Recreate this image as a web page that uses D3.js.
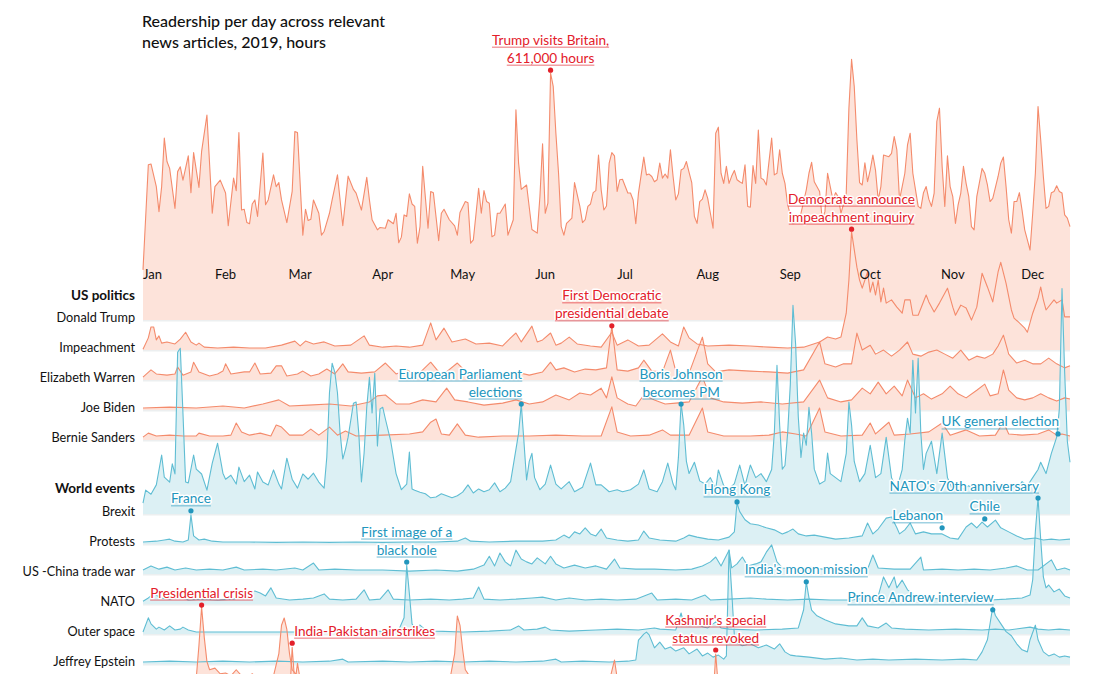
<!DOCTYPE html>
<html><head><meta charset="utf-8">
<script src="https://cdn.jsdelivr.net/npm/d3@7"></script>
<style>
body{margin:0;background:#fff;}
svg text{font-family:Lato,"Noto Sans",sans-serif;}
</style></head><body>
<svg id="chart" width="1094" height="674"></svg>
<script>
// ---------- DATA (thousands of hours per day; [dayOfYear (0 = 1 Jan 2019), value]) ----------
const titleLines = ["Readership per day across relevant", "news articles, 2019, hours"];
const monthLabels = ["Jan","Feb","Mar","Apr","May","Jun","Jul","Aug","Sep","Oct","Nov","Dec"];
const groupUS = "US politics";
const groupWorld = "World events";

const trump = [[0,124],[2,384],[3,386],[5,330],[6,268],[7,330],[8,450],[9,392],[10,375],[12,276],[13,367],[14,379],[15,346],[17,406],[18,315],[19,414],[21,328],[22,417],[24,507],[26,264],[27,330],[29,346],[31,314],[32,233],[34,351],[35,320],[36,464],[37,272],[38,274],[39,241],[40,238],[41,287],[42,297],[43,256],[45,413],[46,285],[47,297],[49,359],[50,330],[51,340],[52,297],[54,241],[56,318],[57,466],[58,464],[60,210],[61,274],[62,246],[63,249],[64,297],[66,264],[67,210],[68,219],[70,264],[71,297],[73,359],[75,233],[77,356],[79,323],[80,314],[82,272],[84,353],[85,297],[86,248],[88,223],[89,229],[91,227],[92,248],[94,238],[95,264],[96,191],[97,205],[98,260],[99,256],[100,312],[101,287],[102,281],[103,190],[104,231],[105,380],[107,227],[108,318],[109,315],[111,196],[112,264],[113,274],[115,248],[117,233],[118,210],[119,266],[121,293],[122,290],[123,190],[124,198],[126,326],[127,264],[128,320],[129,293],[130,289],[131,206],[132,210],[133,264],[134,264],[136,287],[137,210],[139,248],[140,520],[141,388],[142,323],[144,334],[146,224],[148,215],[149,305],[150,436],[151,264],[152,289],[153,611],[154,578],[155,462],[156,363],[157,231],[158,210],[159,239],[161,252],[162,340],[164,281],[165,241],[166,248],[167,281],[168,287],[169,315],[170,320],[171,408],[172,322],[173,272],[174,282],[175,388],[176,414],[177,406],[178,318],[179,347],[180,348],[182,314],[183,314],[184,297],[185,238],[186,314],[188,403],[189,359],[190,361],[191,355],[192,342],[193,347],[194,388],[195,351],[196,361],[197,351],[198,421],[199,355],[200,297],[201,312],[202,371],[203,375],[204,392],[205,365],[206,340],[207,256],[208,239],[209,293],[210,299],[211,322],[212,301],[213,264],[214,227],[215,462],[216,477],[217,363],[218,338],[219,380],[220,338],[221,356],[222,370],[223,347],[224,342],[225,338],[226,384],[227,281],[228,279],[229,382],[230,338],[231,470],[232,351],[233,347],[234,334],[236,450],[237,359],[238,363],[239,421],[240,363],[241,338],[242,285],[244,238],[246,248],[247,264],[249,322],[250,363],[251,390],[252,342],[254,318],[255,248],[256,268],[257,363],[258,330],[259,297],[260,315],[261,305],[262,264],[263,287],[264,314],[265,524],[266,645],[267,578],[268,446],[269,340],[270,334],[271,389],[272,342],[273,371],[274,408],[275,370],[276,297],[277,330],[278,408],[280,404],[281,412],[282,454],[283,421],[284,297],[285,330],[286,363],[287,433],[288,462],[289,363],[291,281],[292,276],[293,315],[294,330],[295,299],[296,281],[297,314],[298,491],[299,524],[300,380],[301,281],[302,406],[303,330],[304,305],[305,239],[306,285],[307,314],[308,380],[309,338],[310,305],[311,231],[312,223],[313,305],[315,375],[316,363],[317,334],[318,293],[319,301],[321,355],[322,388],[323,403],[324,330],[325,248],[326,215],[327,293],[328,293],[329,315],[330,272],[331,223],[332,198],[333,173],[334,264],[335,363],[336,528],[337,446],[338,355],[339,276],[340,281],[341,315],[342,318],[343,332],[344,318],[345,314],[346,260],[347,252],[348,231]];

const impeachment = [[0,2],[2,30],[3,57],[4,57],[5,25],[6,35],[7,17],[9,20],[12,15],[14,27],[16,44],[18,20],[20,12],[21,17],[23,7],[28,5],[34,7],[40,5],[46,5],[52,12],[57,22],[59,10],[61,22],[64,15],[68,20],[72,10],[78,12],[83,35],[85,12],[90,7],[95,10],[100,7],[105,12],[108,67],[110,25],[113,54],[116,20],[121,27],[125,15],[130,17],[135,10],[138,30],[140,42],[142,20],[146,59],[148,20],[150,25],[153,42],[155,12],[157,17],[160,32],[163,15],[168,10],[172,7],[176,44],[178,12],[182,25],[186,10],[190,12],[195,40],[198,20],[201,10],[203,57],[205,30],[208,15],[212,10],[220,12],[228,10],[235,7],[242,5],[248,7],[254,20],[257,32],[260,27],[262,32],[264,91],[265,173],[266,292],[268,205],[269,173],[270,153],[272,193],[273,143],[274,168],[275,136],[276,173],[277,119],[278,153],[279,116],[281,124],[283,106],[285,91],[286,124],[288,124],[289,86],[291,86],[294,136],[295,119],[297,94],[299,116],[302,153],[304,106],[305,86],[307,111],[309,104],[311,74],[313,106],[315,190],[317,156],[319,119],[321,193],[322,217],[324,165],[326,99],[327,79],[329,67],[331,54],[332,44],[334,91],[336,128],[337,156],[338,124],[339,99],[342,124],[343,116],[345,124],[346,82],[348,82]];

const warren = [[0,7],[3,25],[5,15],[9,12],[12,15],[13,32],[15,12],[18,20],[19,44],[21,20],[25,10],[28,15],[30,22],[31,40],[33,15],[38,20],[40,20],[42,42],[44,15],[48,17],[50,35],[52,35],[54,10],[58,15],[60,22],[63,10],[66,15],[69,27],[72,15],[75,40],[77,20],[82,17],[87,20],[91,42],[95,15],[99,25],[103,12],[108,44],[111,20],[113,15],[118,42],[121,22],[125,12],[130,17],[135,12],[140,20],[145,12],[150,20],[153,44],[155,25],[158,30],[162,20],[166,27],[170,25],[174,30],[176,133],[178,25],[182,22],[186,30],[188,49],[191,22],[195,20],[198,74],[200,22],[205,17],[210,106],[212,40],[215,20],[220,25],[228,22],[235,20],[242,17],[248,25],[254,94],[256,40],[260,32],[263,40],[266,40],[268,116],[270,74],[273,86],[275,64],[278,74],[281,59],[284,74],[287,94],[289,64],[292,59],[295,69],[298,74],[301,64],[304,54],[307,74],[310,49],[313,59],[316,54],[319,64],[321,84],[323,111],[325,64],[328,42],[331,49],[334,40],[337,40],[340,54],[343,40],[346,30],[348,35]];

const biden = [[0,5],[10,7],[20,5],[30,10],[38,5],[45,15],[51,25],[55,10],[62,12],[70,15],[78,10],[85,20],[88,35],[91,37],[95,15],[100,15],[105,25],[110,20],[114,54],[117,25],[122,20],[128,12],[135,17],[140,25],[145,15],[150,20],[155,37],[160,25],[164,42],[168,37],[172,54],[174,30],[176,82],[178,30],[182,15],[185,10],[188,37],[192,25],[196,15],[200,17],[205,20],[210,82],[213,30],[218,20],[225,17],[232,20],[240,15],[248,20],[254,74],[257,30],[262,20],[266,25],[270,54],[273,40],[276,69],[279,40],[282,59],[285,35],[287,74],[290,30],[293,40],[296,27],[300,40],[303,59],[306,40],[309,30],[313,49],[316,64],[318,35],[321,40],[323,99],[325,49],[328,30],[331,25],[334,30],[337,40],[340,30],[343,22],[346,30],[348,27]];

const sanders = [[0,7],[2,17],[5,10],[10,12],[15,10],[20,10],[21,17],[25,10],[30,10],[33,12],[35,42],[37,20],[40,12],[44,17],[48,10],[50,37],[52,32],[55,12],[60,12],[63,27],[66,12],[70,32],[73,12],[76,22],[80,10],[90,12],[100,15],[105,20],[108,44],[110,52],[112,15],[115,12],[118,40],[121,12],[126,7],[135,10],[145,10],[155,12],[165,10],[172,10],[176,82],[178,20],[183,10],[190,12],[195,25],[198,12],[205,12],[210,79],[212,20],[218,10],[228,10],[235,12],[240,20],[245,15],[249,10],[254,79],[256,20],[262,10],[270,12],[273,42],[275,15],[280,44],[282,12],[288,15],[295,20],[300,42],[303,12],[309,25],[314,10],[320,12],[323,44],[325,15],[330,12],[336,15],[340,25],[343,12],[345,15],[348,10]];

const brexit = [[0,27],[1,59],[3,49],[5,72],[7,146],[8,91],[10,79],[11,124],[12,99],[13,400],[14,410],[15,250],[16,79],[17,77],[19,146],[20,111],[22,99],[24,59],[26,126],[28,175],[30,101],[31,86],[33,96],[35,74],[36,116],[38,80],[40,96],[42,62],[43,104],[45,79],[47,72],[49,109],[51,74],[52,62],[54,138],[56,86],[58,64],[60,99],[62,86],[64,101],[66,79],[68,64],[69,141],[70,300],[71,373],[72,351],[73,300],[74,200],[75,136],[76,160],[77,190],[79,274],[80,277],[81,200],[82,79],[83,151],[84,264],[85,338],[86,250],[87,348],[88,168],[89,260],[90,264],[91,235],[93,180],[95,100],[97,60],[99,74],[100,153],[101,62],[102,59],[104,54],[106,50],[108,40],[110,42],[112,50],[114,45],[116,40],[118,45],[120,54],[122,72],[124,52],[126,62],[128,55],[130,60],[132,77],[134,55],[136,64],[138,80],[140,160],[141,200],[142,272],[143,180],[144,84],[145,130],[146,150],[147,90],[149,60],[151,74],[153,121],[155,74],[157,62],[160,80],[162,55],[165,66],[168,126],[170,72],[172,72],[175,55],[178,60],[180,55],[183,60],[186,74],[188,109],[190,62],[193,55],[195,80],[197,126],[199,74],[200,60],[201,140],[202,274],[203,220],[204,130],[205,100],[207,128],[209,82],[211,74],[213,90],[215,62],[216,109],[218,70],[220,62],[222,75],[224,121],[226,70],[228,121],[230,90],[232,100],[234,80],[236,110],[237,200],[238,368],[239,220],[240,111],[241,120],[242,200],[243,320],[244,516],[245,420],[246,240],[247,140],[248,200],[249,170],[250,264],[251,200],[252,111],[254,74],[256,82],[257,151],[258,100],[260,90],[262,80],[264,150],[265,277],[266,220],[267,130],[269,80],[271,100],[273,170],[275,90],[277,100],[279,190],[281,90],[283,62],[285,110],[286,183],[287,237],[288,200],[289,380],[290,250],[291,385],[292,200],[293,110],[294,150],[296,180],[298,100],[300,200],[302,90],[304,60],[306,70],[308,62],[310,70],[312,62],[314,60],[316,74],[318,62],[320,80],[322,57],[324,70],[326,74],[328,60],[330,80],[332,70],[334,90],[336,110],[337,128],[339,100],[341,150],[343,190],[344,260],[345,558],[346,350],[347,180],[348,128]];

const protests = [[0,5],[5,7],[8,10],[10,12],[12,7],[15,5],[17,10],[18,72],[19,20],[21,10],[23,12],[26,7],[30,5],[40,5],[50,4],[60,5],[70,4],[80,5],[90,4],[100,5],[110,5],[118,7],[121,15],[123,7],[130,5],[140,7],[150,7],[155,10],[158,22],[160,15],[162,30],[164,25],[166,40],[168,25],[170,20],[172,37],[174,15],[178,10],[182,7],[186,10],[188,32],[190,15],[194,10],[200,7],[203,15],[205,22],[208,17],[212,12],[216,10],[220,17],[222,30],[223,101],[224,80],[226,60],[228,50],[231,47],[234,40],[237,35],[240,25],[242,30],[244,37],[246,25],[249,20],[252,22],[256,17],[260,12],[265,15],[270,20],[272,52],[274,25],[276,37],[279,64],[281,67],[283,40],[284,25],[286,35],[288,52],[290,25],[293,30],[296,25],[300,25],[303,15],[306,12],[309,42],[311,52],[313,40],[315,54],[317,42],[320,59],[322,40],[325,30],[328,20],[331,12],[335,15],[338,10],[341,12],[344,10],[348,12]];

const tradeWar = [[0,10],[3,20],[6,12],[9,17],[12,10],[16,15],[20,10],[25,12],[30,10],[35,17],[38,10],[45,12],[50,10],[57,15],[60,10],[64,27],[66,10],[72,12],[80,10],[90,10],[100,7],[110,10],[118,7],[124,12],[128,22],[130,44],[132,20],[134,52],[136,30],[138,20],[140,59],[142,37],[144,30],[146,25],[148,40],[149,35],[151,25],[153,44],[155,25],[158,15],[162,22],[166,15],[170,20],[174,12],[177,37],[179,15],[185,12],[192,12],[200,10],[206,12],[210,20],[213,30],[215,42],[217,20],[220,59],[221,15],[223,25],[225,42],[227,20],[230,25],[232,30],[234,54],[236,72],[238,30],[240,15],[245,12],[250,17],[255,12],[262,12],[268,10],[272,12],[274,47],[276,15],[282,12],[288,12],[292,42],[293,10],[300,12],[306,10],[312,12],[318,10],[324,15],[328,20],[332,10],[336,10],[341,35],[343,10],[346,15],[348,10]];

const nato = [[0,7],[2,15],[4,25],[7,15],[10,12],[14,17],[17,10],[22,12],[28,10],[34,12],[39,22],[42,32],[44,27],[46,20],[48,40],[50,15],[55,10],[60,12],[64,15],[68,25],[70,12],[75,10],[80,12],[83,35],[85,10],[89,12],[92,35],[94,12],[100,10],[108,12],[115,10],[120,12],[124,15],[126,42],[128,12],[134,10],[140,12],[146,15],[150,17],[155,10],[160,15],[166,10],[172,12],[178,10],[185,12],[191,27],[193,10],[200,12],[206,10],[211,22],[213,10],[220,12],[228,15],[234,12],[242,10],[250,12],[258,10],[266,10],[272,15],[276,20],[278,67],[280,40],[282,67],[283,40],[285,59],[287,35],[290,20],[295,15],[300,12],[306,10],[312,12],[318,10],[324,12],[330,15],[333,22],[334,60],[335,180],[336,262],[337,160],[338,67],[339,40],[340,47],[342,30],[344,37],[346,20],[348,15]];

const outerSpace = [[0,5],[2,40],[3,25],[5,12],[6,17],[8,10],[10,20],[12,10],[14,12],[15,17],[17,10],[20,5],[30,5],[40,5],[50,5],[60,5],[70,5],[80,5],[90,7],[96,10],[98,40],[99,170],[100,100],[101,25],[102,15],[104,22],[106,10],[110,7],[120,5],[130,7],[138,10],[141,20],[143,10],[148,12],[151,17],[153,10],[160,7],[170,10],[178,12],[186,10],[192,15],[194,12],[200,10],[202,52],[203,25],[205,20],[207,40],[209,20],[212,15],[215,30],[217,15],[220,12],[230,10],[240,12],[246,15],[248,60],[249,129],[250,90],[251,59],[253,45],[256,35],[260,25],[265,20],[268,20],[270,40],[272,20],[276,15],[279,27],[281,15],[286,12],[295,10],[305,12],[315,10],[320,12],[325,10],[333,17],[336,12],[340,10],[344,12],[348,10]];

const epstein = [[0,5],[10,7],[20,5],[30,7],[40,5],[50,7],[60,5],[70,7],[75,12],[77,5],[90,7],[100,5],[110,7],[120,5],[130,7],[140,5],[150,7],[155,12],[157,5],[165,7],[175,5],[182,7],[185,10],[186,59],[188,74],[189,79],[190,72],[192,40],[194,54],[196,37],[198,42],[200,32],[203,40],[205,25],[208,37],[210,20],[212,27],[214,17],[216,22],[218,12],[219,20],[220,282],[221,180],[222,70],[223,52],[225,45],[228,50],[231,40],[234,47],[237,37],[239,50],[241,30],[243,22],[245,20],[250,17],[256,12],[262,15],[268,10],[274,12],[280,10],[290,12],[300,10],[308,12],[313,10],[315,30],[317,60],[319,141],[320,120],[322,100],[324,80],[326,70],[328,50],[330,35],[332,30],[333,60],[335,96],[336,60],[338,30],[340,20],[342,25],[344,17],[346,20],[348,17]];

const venezuela = [[0,10],[10,10],[18,15],[20,40],[21,120],[22,215],[23,140],[24,80],[25,60],[27,64],[29,50],[31,52],[33,45],[35,60],[37,45],[39,40],[41,50],[43,40],[45,35],[47,40],[49,45],[51,100],[52,170],[53,188],[54,160],[55,100],[56,60],[58,45],[60,40],[63,45],[66,40],[70,35],[75,30],[80,35],[85,30],[90,30],[95,28],[100,25],[105,25],[110,25],[115,28],[117,100],[118,193],[119,170],[120,110],[121,60],[123,40],[126,35],[130,30],[140,28],[150,25],[160,25],[170,25],[175,30],[177,84],[178,40],[180,25],[190,22],[200,20],[220,20],[240,20],[260,18],[300,18],[348,18]];

const indiaPakistan = [[0,10],[20,10],[40,12],[44,30],[46,15],[50,15],[54,20],[55,60],[56,190],[57,100],[58,150],[59,110],[60,80],[62,60],[65,40],[70,30],[80,25],[100,20],[150,20],[200,20],[212,22],[214,60],[215,173],[216,90],[217,60],[220,50],[225,45],[230,40],[240,35],[260,30],[300,25],[348,20]];

const usNames = ["Donald Trump","Impeachment","Elizabeth Warren","Joe Biden","Bernie Sanders"];
const usSeries = [trump, impeachment, warren, biden, sanders];
const worldNames = ["Brexit","Protests","US -China trade war","NATO","Outer space","Jeffrey Epstein"];
const worldSeries = [brexit, protests, tradeWar, nato, outerSpace, epstein];
const otherNames = ["Venezuela","India-Pakistan"];
const otherSeries = [venezuela, indiaPakistan];

// annotations: label lines, series name, day, dot value
const annotations = [
  {lines:["Trump visits Britain,","611,000 hours"], series:"Donald Trump", day:153, value:618, anchor:"middle", kind:"red"},
  {lines:["Democrats announce","impeachment inquiry"], series:"Impeachment", day:266, value:299, anchor:"middle", kind:"red"},
  {lines:["First Democratic","presidential debate"], series:"Elizabeth Warren", day:176, value:134, anchor:"middle", kind:"red"},
  {lines:["European Parliament","elections"], series:"Brexit", day:142, value:272, anchor:"end", kind:"blue"},
  {lines:["Boris Johnson","becomes PM"], series:"Brexit", day:202, value:272, anchor:"middle", kind:"blue"},
  {lines:["UK general election"], series:"Brexit", day:343.5, value:198, anchor:"end", kind:"blue"},
  {lines:["France"], series:"Protests", day:18, value:82, anchor:"middle", kind:"blue"},
  {lines:["Hong Kong"], series:"Protests", day:223, value:104, anchor:"middle", kind:"blue"},
  {lines:["NATO's 70th anniversary"], series:"NATO", day:336, value:262, anchor:"end", kind:"blue"},
  {lines:["Lebanon"], series:"Protests", day:300, value:40, anchor:"end", kind:"blue"},
  {lines:["Chile"], series:"Protests", day:316, value:62, anchor:"middle", kind:"blue"},
  {lines:["First image of a","black hole"], series:"Outer space", day:99, value:178, anchor:"middle", kind:"blue"},
  {lines:["India's moon mission"], series:"Outer space", day:249, value:129, anchor:"middle", kind:"blue"},
  {lines:["Prince Andrew interview"], series:"Jeffrey Epstein", day:319, value:134, anchor:"end", kind:"blue"},
  {lines:["Presidential crisis"], series:"Venezuela", day:22, value:220, anchor:"middle", kind:"red"},
  {lines:["India-Pakistan airstrikes"], series:"India-Pakistan", day:56, value:200, anchor:"start", kind:"red"},
  {lines:["Kashmir's special","status revoked"], series:"India-Pakistan", day:215, value:183, anchor:"middle", kind:"red"}
];

// ---------- LAYOUT / STYLE ----------
const left = 143, right = 1070;
const rowStep = 30;
const usBase0 = 320, worldBase0 = 514, otherBase0 = 694;
const C = {
  redLine:"#f48b6c", redFill:"#fde3da", blueLine:"#5fbdd3", blueFill:"#dcf0f4",
  redText:"#e3202a", blueText:"#2296bd", strip:"#eceff0", ink:"#111"
};
const svg = d3.select("#chart");
const t0 = Date.UTC(2019,0,1);
const dayToDate = d => new Date(t0 + d*864e5);
const x = d3.scaleUtc().domain([dayToDate(0), dayToDate(348)]).range([left, right]);
const h = d3.scaleLinear().domain([0,611]).range([0,247]);

const rows = [];
usNames.forEach((n,i)=>rows.push({name:n, data:usSeries[i], base:usBase0+i*rowStep, kind:"red"}));
worldNames.forEach((n,i)=>rows.push({name:n, data:worldSeries[i], base:worldBase0+i*rowStep, kind:"blue"}));
otherNames.forEach((n,i)=>rows.push({name:n, data:otherSeries[i], base:otherBase0+i*rowStep, kind:"red", hidden:true}));
const rowByName = Object.fromEntries(rows.map(r=>[r.name,r]));

const gFill = svg.append("g"), gLine = svg.append("g"), gText = svg.append("g");

rows.forEach(r=>{
  const area = d3.area().x(d=>x(dayToDate(d[0]))).y0(r.base).y1(d=>r.base-h(d[1]));
  gFill.append("path").attr("d", area(r.data))
    .attr("fill", r.kind==="red"?C.redFill:C.blueFill);
  gFill.append("line").attr("x1",left).attr("x2",right)
    .attr("y1",r.base+0.8).attr("y2",r.base+0.8)
    .attr("stroke",C.strip).attr("stroke-width",1.6);
});
rows.forEach(r=>{
  const line = d3.line().x(d=>x(dayToDate(d[0]))).y(d=>r.base-h(d[1]));
  gLine.append("path").attr("d", line(r.data)).attr("fill","none")
    .attr("stroke", r.kind==="red"?C.redLine:C.blueLine)
    .attr("stroke-width",1.1).attr("stroke-linejoin","round");
});

// month labels
monthLabels.forEach((m,i)=>{
  const xx = x(new Date(Date.UTC(2019,i,1)));
  gText.append("text").attr("x",xx).attr("y",279)
    .attr("text-anchor", i===0?"start":"middle")
    .attr("font-size",13).attr("fill",C.ink).text(m);
});

// title
titleLines.forEach((t,i)=>{
  gText.append("text").attr("x",142).attr("y",27+i*21)
    .attr("font-size",16).attr("font-weight",500).attr("fill",C.ink).text(t);
});

// group + row labels
gText.append("text").attr("x",135).attr("y",300).attr("text-anchor","end")
  .attr("font-size",13.5).attr("font-weight",700).attr("fill",C.ink).text(groupUS);
gText.append("text").attr("x",135).attr("y",493).attr("text-anchor","end")
  .attr("font-size",13.5).attr("font-weight",700).attr("fill",C.ink).text(groupWorld);
rows.filter(r=>!r.hidden).forEach(r=>{
  gText.append("text").attr("x",135).attr("y",r.base+2).attr("text-anchor","end")
    .attr("font-size",12.7).attr("fill",C.ink).text(r.name);
});

// annotations
annotations.forEach(a=>{
  const r = rowByName[a.series];
  const cx = x(dayToDate(a.day)), cy = r.base - h(a.value);
  const col = a.kind==="red"?C.redText:C.blueText;
  gText.append("circle").attr("cx",cx).attr("cy",cy).attr("r",2.6).attr("fill",col);
  const tx = a.anchor==="end"?cx+1:(a.anchor==="start"?cx+2:cx);
  const n = a.lines.length;
  a.lines.forEach((ln,i)=>{
    const ty = cy - 7.5 - (n-1-i)*18;
    const t = gText.append("text").attr("x",tx).attr("y",ty).attr("text-anchor",a.anchor)
      .attr("font-size",13.6).attr("fill",col)
      .attr("stroke","#fff").attr("stroke-width",3).attr("paint-order","stroke")
      .attr("stroke-linejoin","round").text(ln);
    const w = t.node().getComputedTextLength();
    const x0 = a.anchor==="end"?tx-w:(a.anchor==="start"?tx:tx-w/2);
    gText.append("line").attr("x1",x0).attr("x2",x0+w).attr("y1",ty+2.5).attr("y2",ty+2.5)
      .attr("stroke",col).attr("stroke-width",0.8).attr("opacity",0.8);
  });
});
</script>
</body></html>
